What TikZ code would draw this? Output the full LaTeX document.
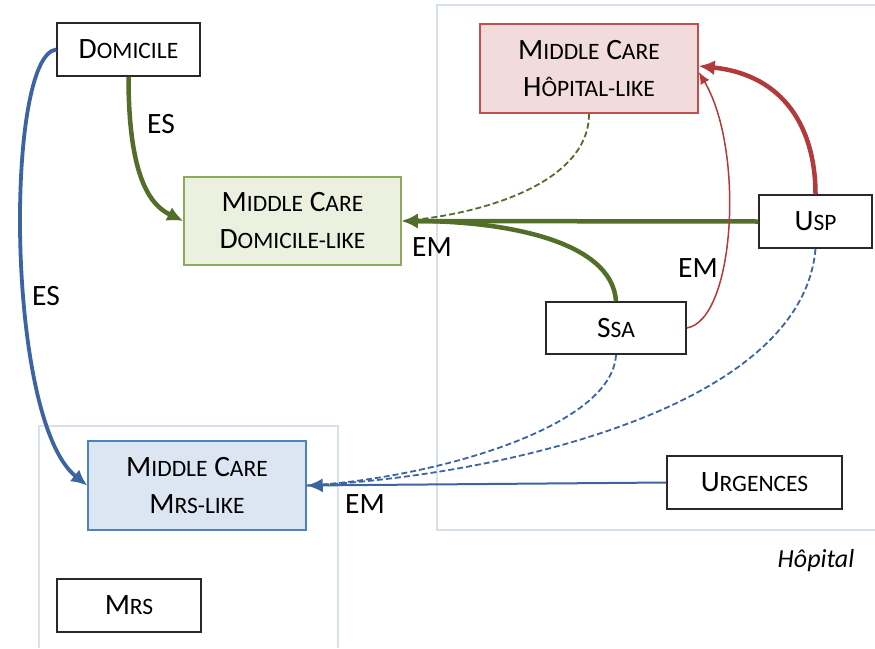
\documentclass[tikz,border=0pt]{standalone}
\usepackage{fontspec}
\setmainfont{Carlito}
\usetikzlibrary{arrows.meta}
\newcommand\smcp[1]{{\fontsize{23.5}{37}\selectfont #1}}
\definecolor{lgreen}{RGB}{83,110,40}
\definecolor{fgreen}{RGB}{235,241,222}
\definecolor{bgreen}{RGB}{140,170,90}
\definecolor{fred}{RGB}{242,220,219}
\definecolor{bred}{RGB}{192,80,77}
\definecolor{lred}{RGB}{178,58,58}
\definecolor{fblue}{RGB}{220,230,242}
\definecolor{bblue}{RGB}{79,129,189}
\definecolor{lblue}{RGB}{60,100,160}
\definecolor{region}{RGB}{215,225,235}
\definecolor{boxgray}{RGB}{40,40,40}
\tikzset{
  box/.style={draw=boxgray, line width=1.5pt, fill=white, inner sep=0pt, align=center,
    font=\fontsize{29.5}{37}\selectfont},
  mcgreen/.style={box, draw=bgreen, fill=fgreen},
  mcred/.style={box, draw=bred, fill=fred},
  mcblue/.style={box, draw=bblue, fill=fblue},
  lab/.style={font=\fontsize{29.5}{32}\selectfont, inner sep=0pt},
  thickg/.style={draw=lgreen, line width=4.5pt, -{Latex[length=16pt,width=15pt]}},
  thinr/.style={draw=lred, line width=1.5pt, -{Latex[length=12pt,width=10pt]}},
  thickr/.style={draw=lred, line width=4.5pt, -{Latex[length=16pt,width=15pt]}},
  thickb/.style={draw=lblue, line width=3.8pt, -{Latex[length=16pt,width=15pt]}},
  thinb/.style={draw=lblue, line width=2pt, -{Latex[length=16pt,width=14pt]}},
  dashb/.style={draw=lblue, line width=1.8pt, dash pattern=on 6pt off 3pt},
  dashg/.style={draw=lgreen, line width=1.8pt, dash pattern=on 6pt off 3pt},
  regionline/.style={draw=region, line width=1.2pt},
}
\begin{document}
\begin{tikzpicture}[x=1pt,y=-1pt]
\useasboundingbox (0,0) rectangle (875,648);
% regions
\draw[regionline] (875,5) -- (437,5) -- (437,530) -- (875,530);
\draw[regionline] (39,648) -- (39,426) -- (338,426) -- (338,648);
\node[inner sep=0pt, font=\fontsize{26}{30}\selectfont\itshape] (hoplab) at (816,561) {Hôpital};
% nodes
\node[box, minimum width=143, minimum height=53] (dom) at (128.5,49.5) {D\smcp{OMICILE}};
\node[mcgreen, minimum width=217, minimum height=88] (mcd) at (292.5,221) {M\smcp{IDDLE} C\smcp{ARE}\\D\smcp{OMICILE-LIKE}};
\node[mcred, minimum width=218, minimum height=89] (mch) at (589,68.5) {M\smcp{IDDLE} C\smcp{ARE}\\H\smcp{ÔPITAL-LIKE}};
\node[box, minimum width=113, minimum height=53] (usp) at (815.5,221.5) {U\smcp{SP}};
\node[box, minimum width=140, minimum height=52] (ssa) at (616,328) {S\smcp{SA}};
\node[box, minimum width=175, minimum height=53] (urg) at (754.5,482.5) {U\smcp{RGENCES}};
\node[mcblue, minimum width=218, minimum height=89] (mcm) at (197,485.5) {M\smcp{IDDLE} C\smcp{ARE}\\M\smcp{RS-LIKE}};
\node[box, minimum width=144, minimum height=53] (mrs) at (129,605.5) {M\smcp{RS}};
% green connectors
\draw[dashg] (mch.south) .. controls ++(0,70) and (480,215) .. (mcd.east);
\draw[thickg] (dom.south) .. controls ++(0,100) and (150,205) .. (mcd.west);
\draw[thickg] (usp.west) -- (mcd.east);
\draw[thickg] (ssa.north) .. controls ++(-4,-62) and (500,221) .. (mcd.east);
% red connectors
\draw[thinr] (ssa.east) .. controls (735,320) and (745,150) .. (mch.north east |- 0,72);
\draw[thickr] (usp.north) .. controls ++(0,-65) and (785,75) .. (mch.north east |- 0,66);
% blue connectors
\draw[thickb] (dom.west) .. controls (5,55) and (5,420) .. (mcm.west);
\draw[dashb] (ssa.south) .. controls ++(-4,76) and (420,480) .. (mcm.east);
\draw[dashb] (usp.south) .. controls ++(-14,165) and (480,478) .. (mcm.east);
\draw[thinb] (urg.west) -- (mcm.east);
% labels
\node[lab] (es1) at (161,124) {ES};
\node[lab] (em1) at (432,247) {EM};
\node[lab] (em2) at (698,268) {EM};
\node[lab] (es2) at (46,296) {ES};
\node[lab] (em3) at (365,504) {EM};
\end{tikzpicture}
\end{document}
